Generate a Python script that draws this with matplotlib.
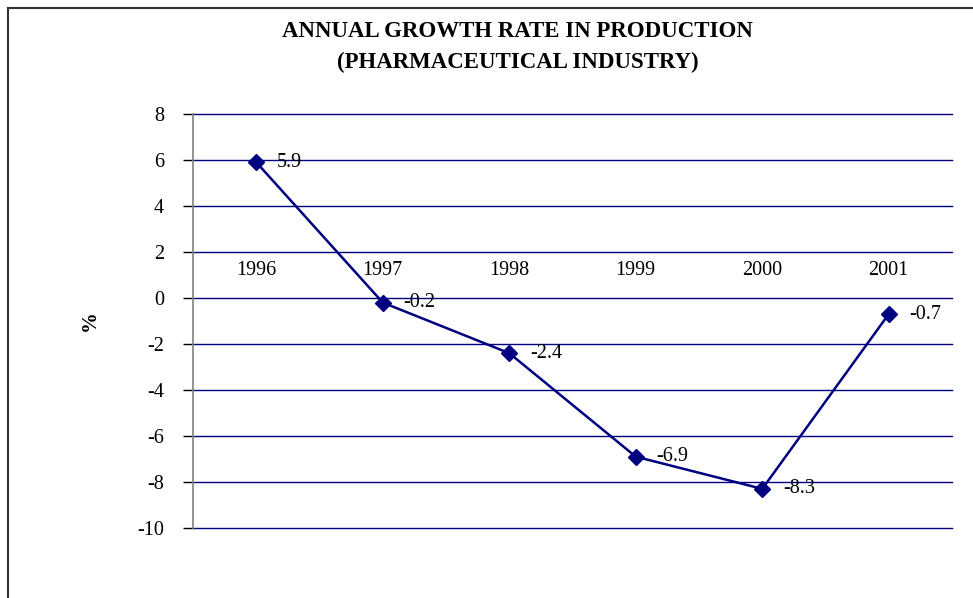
import matplotlib
matplotlib.use('Agg')
import matplotlib.pyplot as plt
from matplotlib.lines import Line2D

years = ['1996', '1997', '1998', '1999', '2000', '2001']
growth = [5.9, -0.2, -2.4, -6.9, -8.3, -0.7]
yticks = [8, 6, 4, 2, 0, -2, -4, -6, -8, -10]

navy = '#000080'
plt.rcParams['font.family'] = ['Liberation Serif', 'DejaVu Serif']

fig = plt.figure(figsize=(9.73, 5.98), dpi=100)
ax = fig.add_axes([0.1984, 0.1171, 0.78, 0.6923])

x = list(range(len(years)))
ax.plot(x, growth, color=navy, lw=1.8, marker='D', markersize=8, zorder=3)

for xi, v in zip(x, growth):
    ax.annotate(str(v), (xi, v), xytext=(15, 0), textcoords='offset points',
                ha='left', va='center', fontsize=14.5)

# category labels sit above the zero line
for xi, yr in zip(x, years):
    ax.annotate(yr, (xi, 0), xytext=(0, 20), textcoords='offset points',
                ha='center', va='center', fontsize=14.5)

ax.set_xlim(-0.5, 5.5)
ax.set_ylim(-10, 8)
ax.set_yticks(yticks)
ax.set_yticklabels([str(t) for t in yticks], fontsize=14.5)
ax.set_xticks([])
for t in yticks:
    ax.axhline(t, color=navy, lw=1.0, zorder=1, clip_on=False)

for s in ['top', 'right', 'bottom']:
    ax.spines[s].set_visible(False)
ax.spines['left'].set_color('#808080')
ax.spines['left'].set_linewidth(1.2)
ax.tick_params(axis='y', length=7, width=1, color='black', pad=14)

ax.set_ylabel('%', fontsize=15, fontweight='bold', labelpad=27)

fig.text(0.532, 0.948, 'ANNUAL GROWTH RATE IN PRODUCTION', ha='center', va='center',
         fontsize=16.5, fontweight='bold')
fig.text(0.532, 0.895, '(PHARMACEUTICAL INDUSTRY)', ha='center', va='center',
         fontsize=16.5, fontweight='bold')

# chart area border (left and top edges visible)
fig.add_artist(Line2D([8 / 973, 8 / 973], [0, 1 - 8 / 598], color='#333333', lw=1.5,
                      transform=fig.transFigure))
fig.add_artist(Line2D([8 / 973, 1], [1 - 8 / 598, 1 - 8 / 598], color='#333333', lw=1.5,
                      transform=fig.transFigure))

plt.savefig('out.png', dpi=100)
